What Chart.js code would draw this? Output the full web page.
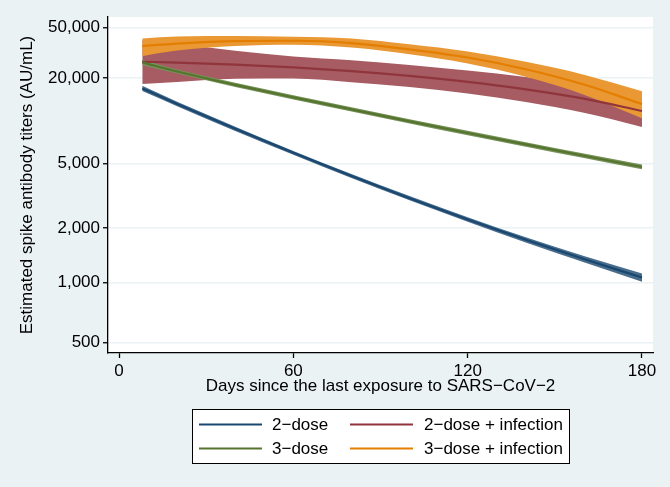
<!DOCTYPE html>
<html><head><meta charset="utf-8">
<script src="https://cdn.jsdelivr.net/npm/chart.js@4"></script>
<style>html,body{margin:0;padding:0;background:#eaf2f3;}canvas{display:block;}</style>
</head><body>
<canvas id="c" width="670" height="487"></canvas>
<script>
// ---- data ----
const days = [8, 20, 40, 60, 80, 100, 120, 140, 160, 180];

const twoDose    = [16700, 12850, 8566, 5879, 4159, 3021, 2249, 1715, 1337, 1062];
const twoDoseHi  = [17450, 13325, 8857, 6055, 4284, 3112, 2321, 1775, 1390, 1117];
const twoDoseLo  = [15950, 12375, 8275, 5703, 4034, 2930, 2177, 1655, 1284, 1009];

const threeDose   = [26358, 22378, 17748, 14343, 11721, 9650, 8003, 6692, 5624, 4751];
const threeDoseHi = [27680, 23180, 18387, 14859, 12143, 9997, 8291, 6933, 5826, 4922];
const threeDoseLo = [25040, 21595, 17127, 13841, 11311, 9312, 7723, 6458, 5427, 4585];

const twoDoseInf   = [26645, 26264, 25343, 24110, 22579, 20754, 18695, 16430, 14032, 11430];
const twoDoseInfHi = [39540, 36920, 32550, 29318, 27433, 25175, 22827, 20357, 17765, 14874];
const twoDoseInfLo = [17995, 18680, 19735, 19826, 18585, 17114, 15313, 13261, 11078, 8815];

const threeDoseInf   = [35460, 37140, 38907, 39125, 37488, 33372, 28744, 23310, 17839, 12817];
const threeDoseInfHi = [40876, 42288, 42704, 42153, 40753, 36579, 32038, 26622, 21198, 15920];
const threeDoseInfLo = [29482, 32620, 35448, 36315, 34485, 30445, 25789, 20410, 15013, 10150];

const seriesLabels = ['2\u2212dose', '2\u2212dose + infection', '3\u2212dose', '3\u2212dose + infection'];
const xTicks = [0, 60, 120, 180];
const yTicks = [500, 1000, 2000, 5000, 20000, 50000];
const xRange = [-3.79, 183.79];
const yRange = [446, 61470];
const xTitle = 'Days since the last exposure to SARS\u2212CoV\u22122';
const yTitle = 'Estimated spike antibody titers (AU/mL)';

// ---- styles ----
const FONT = {family: '"Liberation Sans", Arial, Helvetica, sans-serif', size: 17};
const series = [
  {label: seriesLabels[0], mid: twoDose,      hi: twoDoseHi,      lo: twoDoseLo,      line: '#1a476f', band: '#486c8c', lineOrder: 4, bandOrder: 14},
  {label: seriesLabels[1], mid: twoDoseInf,   hi: twoDoseInfHi,   lo: twoDoseInfLo,   line: '#90353b', band: '#a65c62', lineOrder: 3, bandOrder: 13},
  {label: seriesLabels[2], mid: threeDose,    hi: threeDoseHi,    lo: threeDoseLo,    line: '#55752f', band: '#779159', lineOrder: 2, bandOrder: 12},
  {label: seriesLabels[3], mid: threeDoseInf, hi: threeDoseInfHi, lo: threeDoseInfLo, line: '#e37e00', band: '#e99833', lineOrder: 1, bandOrder: 11}
];

const pts = arr => arr.map((v, i) => ({x: days[i], y: Math.log(v)}));
const datasets = [];
series.forEach(s => {
  const hiIdx = datasets.length;
  const common = {pointRadius: 0, pointHoverRadius: 0, cubicInterpolationMode: 'monotone'};
  datasets.push(Object.assign({data: pts(s.hi), borderWidth: 0, borderColor: 'rgba(0,0,0,0)', fill: false, order: s.bandOrder}, common));
  datasets.push(Object.assign({data: pts(s.lo), borderWidth: 0, borderColor: 'rgba(0,0,0,0)', backgroundColor: s.band, fill: hiIdx, order: s.bandOrder}, common));
  datasets.push(Object.assign({label: s.label, data: pts(s.mid), borderColor: s.line, borderWidth: 2.2, fill: false, order: s.lineOrder, isMain: true}, common));
});

const fmt = n => String(n).replace(/\B(?=(\d{3})+(?!\d))/g, ',');

const bgPlugin = {
  id: 'bg',
  beforeDraw(chart) {
    const {ctx, chartArea: a} = chart;
    ctx.save();
    ctx.fillStyle = '#eaf2f3';
    ctx.fillRect(0, 0, chart.width, chart.height);
    ctx.fillStyle = '#ffffff';
    ctx.fillRect(a.left, a.top, a.right - a.left, a.bottom - a.top);
    ctx.restore();
  }
};

const legendPlugin = {
  id: 'boxLegend',
  afterDraw(chart) {
    const ctx = chart.ctx;
    const box = {left: 192.5, top: 409.5, width: 377, height: 54};
    const rows = [424.5, 448.5];
    const lineX = [[199, 262], [350, 413]];
    const textX = [272, 424];
    ctx.save();
    ctx.fillStyle = '#ffffff';
    ctx.fillRect(box.left, box.top, box.width, box.height);
    ctx.strokeStyle = '#000';
    ctx.lineWidth = 1;
    ctx.strokeRect(box.left, box.top, box.width, box.height);
    const mains = chart.data.datasets.filter(d => d.isMain);
    ctx.font = FONT.size + 'px ' + FONT.family;
    ctx.textBaseline = 'middle';
    ctx.textAlign = 'left';
    mains.forEach((d, i) => {
      const r = Math.floor(i / 2), c = i % 2;
      ctx.strokeStyle = d.borderColor;
      ctx.lineWidth = 2;
      ctx.beginPath();
      ctx.moveTo(lineX[c][0], rows[r]);
      ctx.lineTo(lineX[c][1], rows[r]);
      ctx.stroke();
      ctx.fillStyle = '#000';
      ctx.fillText(d.label, textX[c], rows[r] + 1);
    });
    ctx.restore();
  }
};

new Chart(document.getElementById('c'), {
  type: 'line',
  data: {datasets},
  plugins: [bgPlugin, legendPlugin],
  options: {
    responsive: false,
    animation: false,
    devicePixelRatio: 1,
    layout: {padding: {left: 0, right: 17, top: 17, bottom: 0}},
    plugins: {legend: {display: false}, tooltip: {enabled: false}},
    scales: {
      x: {
        type: 'linear', min: xRange[0], max: xRange[1],
        afterBuildTicks: s => { s.ticks = xTicks.map(v => ({value: v})); },
        afterFit: s => { s.height = 134; },
        ticks: {font: FONT, color: '#000', padding: 3, autoSkip: false, maxRotation: 0, callback: v => String(v)},
        grid: {drawOnChartArea: false, drawTicks: true, tickLength: 5, tickColor: '#000', tickWidth: 1.3},
        border: {display: true, color: '#000', width: 1.3},
        title: {display: true, text: xTitle, font: FONT, color: '#000', padding: {top: 0, bottom: 90}}
      },
      y: {
        type: 'logarithmic', min: Math.log(yRange[0]), max: Math.log(yRange[1]),
        afterBuildTicks: s => { s.ticks = yTicks.map(v => ({value: Math.log(v)})); },
        afterFit: s => { s.width = 108; },
        ticks: {font: FONT, color: '#000', padding: 3, autoSkip: false, callback: v => fmt(Math.round(Math.exp(v)))},
        grid: {color: '#eaf2f3', lineWidth: 1.5, drawTicks: true, tickLength: 5, tickColor: '#000', tickWidth: 1.3},
        border: {display: true, color: '#000', width: 1.3},
        title: {display: true, text: yTitle, font: FONT, color: '#000', padding: {top: 17, bottom: 0}}
      }
    }
  }
});
</script>
</body></html>
